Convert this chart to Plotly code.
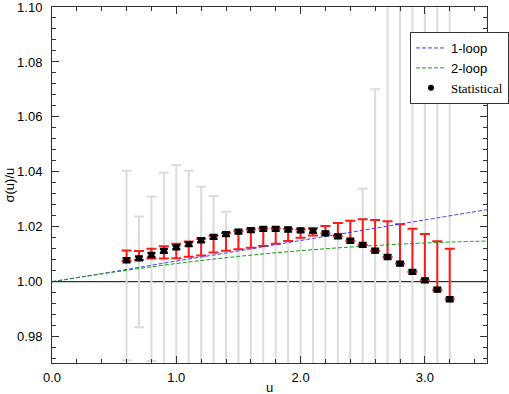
import plotly.graph_objects as go

# ---- data ----
u = [0.6, 0.7, 0.8, 0.9, 1.0, 1.1, 1.2, 1.3, 1.4, 1.5, 1.6, 1.7, 1.8, 1.9,
     2.0, 2.1, 2.2, 2.3, 2.4, 2.5, 2.6, 2.7, 2.8, 2.9, 3.0, 3.1, 3.2]
ratio = [1.0078, 1.0085, 1.0097, 1.0112, 1.0125, 1.0137, 1.0151, 1.0163, 1.0173,
         1.0182, 1.0188, 1.0192, 1.0192, 1.0190, 1.0187, 1.0185, 1.0176, 1.0165,
         1.0149, 1.0134, 1.0113, 1.0090, 1.0066, 1.0036, 1.0005, 0.9971, 0.9936]
stat_err = [0.0007] * len(u)

red_top = [1.0114, 1.0112, 1.0120, 1.0129, 1.0138, 1.0146, 1.0156, 1.0167, 1.0176,
           1.0184, 1.0190, 1.0194, 1.0194, 1.0192, 1.0190, 1.0195, 1.0203, 1.0214,
           1.0222, 1.0227, 1.0225, 1.0220, 1.0209, 1.0193, 1.0174, 1.0147, 1.0120]
red_bot = [1.0076, 1.0080, 1.0084, 1.0084, 1.0085, 1.0091, 1.0095, 1.0106, 1.0113,
           1.0118, 1.0124, 1.0130, 1.0138, 1.0148, 1.0160, 1.0168, 1.0175, 1.0165,
           1.0149, 1.0134, 1.0113, 1.0090, 1.0066, 1.0036, 1.0005, 0.9971, 0.9936]

gray_top = [1.0404, 1.0237, 1.0310, 1.0397, 1.0425, 1.0404, 1.0346, 1.0312, 1.0255,
            1.0184, 1.0190, 1.0194, 1.0194, 1.0192, 1.0190, 1.0195, 1.0203, 1.0214,
            1.0222, 1.0338, 1.0701, 1.1200, 1.1200, 1.1200, 1.1200, 1.1200, 1.1200]
gray_bot = [0.9713, 0.9834, 0.9711, 0.9600, 0.9600, 0.9600, 0.9600, 0.9600, 0.9600,
            0.9600, 0.9600, 0.9600, 0.9600, 0.9600, 0.9600, 0.9600, 0.9600, 0.9600,
            0.9600, 0.9600, 0.9600, 0.9600, 0.9600, 0.9600, 0.9600, 0.9600, 0.9600]

u_curve = [0.0, 0.5, 1.0, 1.5, 2.0, 2.5, 3.0, 3.5]
one_loop = [1.0, 1.0037, 1.0075, 1.0112, 1.0150, 1.0187, 1.0225, 1.0262]
two_loop = [1.0, 1.0035, 1.0066, 1.0092, 1.0113, 1.0129, 1.0141, 1.0148]

x_ticks = [0.0, 1.0, 2.0, 3.0]
x_ticklabels = ["0.0", "1.0", "2.0", "3.0"]
y_ticks = [0.98, 1.00, 1.02, 1.04, 1.06, 1.08, 1.10]
y_ticklabels = ["0.98", "1.00", "1.02", "1.04", "1.06", "1.08", "1.10"]

SANS = "Liberation Sans, Arial, sans-serif"

fig = go.Figure()

# gray (outer) error bars
fig.add_trace(go.Scatter(
    x=u, y=ratio, mode="markers", marker=dict(size=0.1, color="rgba(0,0,0,0)"),
    error_y=dict(type="data", symmetric=False,
                 array=[t - r for t, r in zip(gray_top, ratio)],
                 arrayminus=[r - b for r, b in zip(ratio, gray_bot)],
                 color="#dcdcdc", thickness=2, width=5),
    showlegend=False, hoverinfo="skip"))

fig.add_hline(y=1.0, line=dict(color="black", width=1), layer="below")

# red error bars
fig.add_trace(go.Scatter(
    x=u, y=ratio, mode="markers", marker=dict(size=0.1, color="rgba(0,0,0,0)"),
    error_y=dict(type="data", symmetric=False,
                 array=[t - r for t, r in zip(red_top, ratio)],
                 arrayminus=[r - b for r, b in zip(ratio, red_bot)],
                 color="#ff1a1a", thickness=2, width=5),
    showlegend=False, hoverinfo="skip"))

fig.add_trace(go.Scatter(
    x=u_curve, y=one_loop, mode="lines", name="1-loop",
    line=dict(color="#4040ff", width=1, dash="4px,2px", shape="spline")))
fig.add_trace(go.Scatter(
    x=u_curve, y=two_loop, mode="lines", name="2-loop",
    line=dict(color="#1a9a1a", width=1, dash="4px,2px", shape="spline")))

fig.add_trace(go.Scatter(
    x=u, y=ratio, mode="markers",
    name='<span style="font-family:Liberation Serif, Times New Roman, serif;font-size:13px">Statistical</span>',
    marker=dict(size=6, color="black", symbol="circle"),
    error_y=dict(type="data", array=stat_err, color="black", thickness=2.5, width=4)))

axis_common = dict(
    showgrid=False, zeroline=False, showline=True, linecolor="#333333", linewidth=1,
    mirror="allticks", ticks="inside", ticklen=7, tickwidth=1, tickcolor="#333333",
    tickfont=dict(family=SANS, size=13, color="black"), automargin=False,
    ticklabeloverflow="allow",
)

fig.update_xaxes(
    range=[0.0, 3.5], tickmode="array", tickvals=x_ticks, ticktext=x_ticklabels,
    minor=dict(dtick=0.2, ticks="inside", ticklen=4, tickcolor="#333333"),
    ticklabelstandoff=2,
    **axis_common)
fig.update_yaxes(
    range=[0.9704, 1.10], tickmode="array", tickvals=y_ticks, ticktext=y_ticklabels,
    minor=dict(dtick=0.004, tick0=1.0, ticks="inside", ticklen=4, tickcolor="#333333"),
    ticklabelstandoff=6,
    **axis_common)

# axis titles
fig.add_annotation(text="u", xref="paper", yref="paper", x=0.5, y=-0.068,
                   xanchor="center", yanchor="middle", showarrow=False,
                   font=dict(family=SANS, size=13, color="black"))
fig.add_annotation(text="σ(u)/u", xref="paper", yref="paper", x=-0.1,
                   y=0.5, xanchor="center", yanchor="middle", showarrow=False,
                   textangle=-90, font=dict(family=SANS, size=13, color="black"))

fig.update_layout(
    width=509, height=394, autosize=False,
    margin=dict(l=52, r=22, t=7, b=31, autoexpand=False),
    paper_bgcolor="white", plot_bgcolor="white",
    legend=dict(x=(410 - 52) / 435, y=1 - (32 - 7) / 356, xanchor="left", yanchor="top",
                bgcolor="white", bordercolor="#333333", borderwidth=1,
                font=dict(family=SANS, size=13, color="black"),
                itemwidth=30, tracegroupgap=0),
)

fig.write_html("out.html",
               config={"displayModeBar": False, "responsive": False},
               post_script="document.body.style.margin='0';document.body.style.overflow='hidden';")
